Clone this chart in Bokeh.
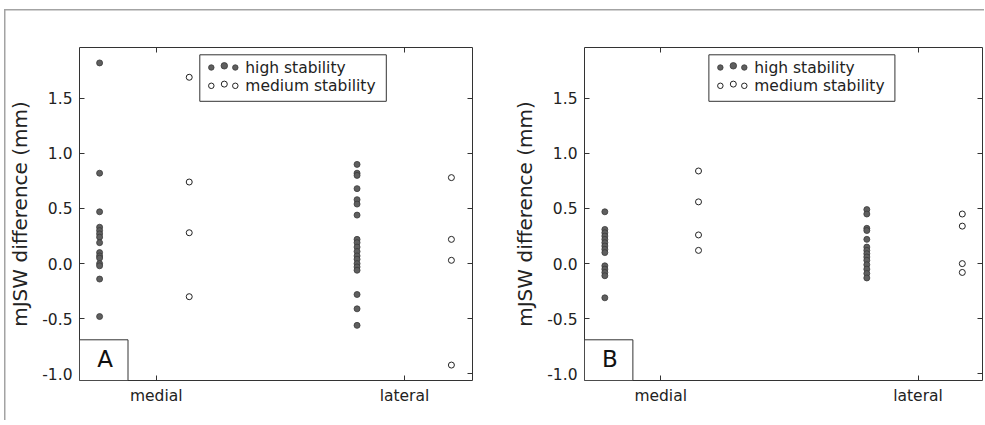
from bokeh.plotting import figure
from bokeh.layouts import row
from bokeh.models import (FixedTicker, LinearAxis, BoxAnnotation, Label,
                          PrintfTickFormatter)
from bokeh.embed import file_html
from bokeh.resources import INLINE

# ---------------- data ----------------
categories = ["medial", "lateral"]
category_pos = [1, 2]
y_ticks = [-1.0, -0.5, 0.0, 0.5, 1.0, 1.5]
series_names = ["high stability", "medium stability"]

# panel A
A_high_medial = [1.82, 0.82, 0.47, 0.33, 0.30, 0.27, 0.24, 0.19, 0.10, 0.07,
                 0.05, 0.00, -0.02, -0.14, -0.48]
A_medium_medial = [1.69, 0.74, 0.28, -0.30]
A_high_lateral = [0.90, 0.82, 0.80, 0.68, 0.58, 0.54, 0.44, 0.22, 0.19, 0.15,
                  0.11, 0.07, 0.04, 0.00, -0.03, -0.06, -0.28, -0.41, -0.56]
A_medium_lateral = [0.78, 0.22, 0.03, -0.92]
A_group_x = [0.772, 1.133, 1.809, 2.189]   # high-med, medium-med, high-lat, medium-lat

# panel B
B_high_medial = [0.47, 0.31, 0.28, 0.25, 0.22, 0.19, 0.16, 0.13, 0.10, -0.02,
                 -0.05, -0.08, -0.11, -0.31]
B_medium_medial = [0.84, 0.56, 0.26, 0.12]
B_high_lateral = [0.49, 0.45, 0.32, 0.30, 0.22, 0.15, 0.12, 0.09, 0.06, 0.03,
                  -0.01, -0.05, -0.09, -0.13]
B_medium_lateral = [0.45, 0.34, 0.00, -0.08]
B_group_x = [0.783, 1.147, 1.801, 2.172]

FONT = "DejaVu Sans"
TXT = "#222222"
SPINE = "#333333"
HIGH_FILL = "#5f5f5f"
HIGH_LINE = "#3a3a3a"


def make_panel(letter, groups, gx, width, height, bl, br, bt, bb, xr, yr,
               legend_left):
    p = figure(width=width, height=height, x_range=xr, y_range=yr,
               output_backend="svg", toolbar_location=None,
               min_border_left=bl, min_border_right=br,
               min_border_top=bt, min_border_bottom=bb)
    p.grid.visible = False
    p.outline_line_color = SPINE
    p.outline_line_width = 1
    p.outline_line_alpha = 1
    p.background_fill_color = "white"
    p.border_fill_color = None

    fw = width - bl - br
    fh = height - bt - bb

    def to_data(rx, ry):
        x = xr[0] + rx * (xr[1] - xr[0]) / fw
        y = yr[1] - ry * (yr[1] - yr[0]) / fh
        return x, y

    # axes
    xa = p.xaxis[0]
    xa.ticker = FixedTicker(ticks=category_pos)
    xa.major_label_overrides = {c: n for c, n in zip(category_pos, categories)}
    ya = p.yaxis[0]
    ya.ticker = FixedTicker(ticks=y_ticks)
    ya.formatter = PrintfTickFormatter(format="%.1f")
    ya.axis_label = "mJSW difference (mm)"
    ya.axis_label_text_font = FONT
    ya.axis_label_text_font_size = "20px"
    ya.axis_label_text_font_style = "normal"
    ya.axis_label_text_color = TXT
    ya.axis_label_standoff = 7
    for ax in (xa, ya):
        ax.axis_line_color = None
        ax.major_tick_in = 5
        ax.major_tick_out = 0
        ax.major_tick_line_color = SPINE
        ax.minor_tick_line_color = None
        ax.major_label_text_font = FONT
        ax.major_label_text_font_size = "15.5px"
        ax.major_label_text_color = TXT
        ax.major_label_standoff = 7
    xa.major_label_standoff = 6

    for side, tk in (("right", y_ticks), ("above", category_pos)):
        ax = LinearAxis(ticker=FixedTicker(ticks=tk))
        ax.axis_line_color = None
        ax.major_tick_in = 5
        ax.major_tick_out = 0
        ax.major_tick_line_color = SPINE
        ax.minor_tick_line_color = None
        ax.major_label_text_font_size = "0px"
        ax.major_label_standoff = 0
        ax.major_label_overrides = {t: "" for t in tk}
        p.add_layout(ax, side)

    # data
    hm, mm, hl, ml = groups
    for vals, x, filled in ((hm, gx[0], True), (mm, gx[1], False),
                            (hl, gx[2], True), (ml, gx[3], False)):
        if filled:
            p.scatter([x] * len(vals), vals, size=6, fill_color=HIGH_FILL,
                      line_color=HIGH_LINE, line_width=0.8)
        else:
            p.scatter([x] * len(vals), vals, size=6, fill_color="white",
                      line_color="#222222", line_width=1)

    # legend (matplotlib-like, three scatter points)
    lx0, ly0 = to_data(legend_left, 7.3)
    lx1, ly1 = to_data(legend_left + 186.5, 53.8)
    p.add_layout(BoxAnnotation(left=lx0, right=lx1, top=ly0, bottom=ly1,
                               fill_color="white", fill_alpha=1,
                               line_color=SPINE, line_alpha=1, line_width=1,
                               level="underlay"))
    rows_y = [20.0, 38.3]
    for i, name in enumerate(series_names):
        xs, ys = [], []
        for j, dx in enumerate([11.5, 24.5, 35.5]):
            dy = -1.7 if j == 1 else 0.0
            x, y = to_data(legend_left + dx, rows_y[i] + dy)
            xs.append(x)
            ys.append(y)
        if i == 0:
            p.scatter(xs, ys, size=[5.5, 6.5, 5.5], fill_color=HIGH_FILL,
                      line_color=HIGH_LINE, line_width=0.8)
        else:
            p.scatter(xs, ys, size=[5.5, 6.0, 5.5], fill_color="white",
                      line_color="#222222", line_width=1)
        tx, ty = to_data(legend_left + 45.5, rows_y[i])
        p.add_layout(Label(x=tx, y=ty, text=name, text_font=FONT,
                           text_font_size="15.5px", text_color=TXT,
                           text_baseline="middle", text_align="left"))

    # panel letter box
    bx1, by1 = to_data(48.5, fh - 40.7)
    p.add_layout(BoxAnnotation(left=xr[0], right=bx1, top=by1, bottom=yr[0],
                               fill_color="white", fill_alpha=1,
                               line_color=SPINE, line_alpha=1, line_width=1))
    cx, cy = to_data(25.5, fh - 21.5)
    p.add_layout(Label(x=cx, y=cy, text=letter, text_font=FONT,
                       text_font_size="23px", text_color="#111111",
                       text_baseline="middle", text_align="center"))
    return p


pA = make_panel("A", (A_high_medial, A_medium_medial, A_high_lateral, A_medium_lateral),
                A_group_x, 510, 420, 79, 38, 47, 40, (0.691, 2.274), (-1.06, 1.96),
                120.3)
pB = make_panel("B", (B_high_medial, B_medium_medial, B_high_lateral, B_medium_lateral),
                B_group_x, 474, 420, 73, 2, 47, 40, (0.704, 2.2505), (-1.06, 1.96),
                124.7)

layout = row(pA, pB, spacing=0, styles={
    "background-image": "linear-gradient(#a3a3a3, #a3a3a3), linear-gradient(#a3a3a3, #a3a3a3)",
    "background-size": "100% 1.5px, 1.5px 100%",
    "background-position": "4px 9px, 4px 9px",
    "background-repeat": "no-repeat",
})
open("out.html", "w").write(file_html(layout, INLINE))
